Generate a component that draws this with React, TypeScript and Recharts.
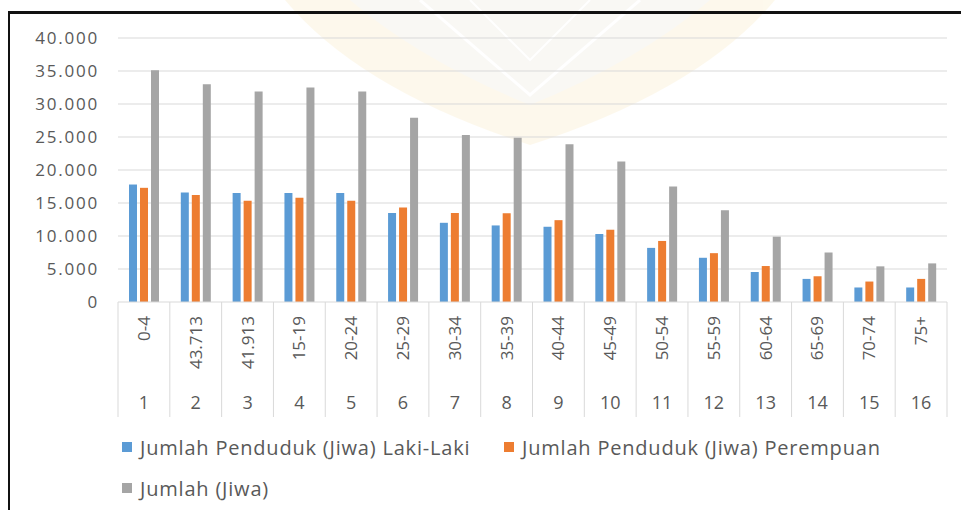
import { BarChart, Bar, XAxis, YAxis, CartesianGrid } from "recharts";

// kelompok umur (label sumbu seperti di gambar asli, termasuk yang salah ketik)
const kelompokUmur = [
  "0-4", "43.713", "41.913", "15-19", "20-24", "25-29", "30-34", "35-39",
  "40-44", "45-49", "50-54", "55-59", "60-64", "65-69", "70-74", "75+",
];
const nomor = ["1", "2", "3", "4", "5", "6", "7", "8", "9", "10", "11", "12", "13", "14", "15", "16"];

const lakiLaki = [17800, 16600, 16500, 16500, 16500, 13500, 12000, 11600, 11400, 10300, 8200, 6700, 4550, 3500, 2200, 2200];
const perempuan = [17300, 16200, 15350, 15800, 15350, 14300, 13500, 13450, 12400, 10950, 9250, 7400, 5450, 3900, 3100, 3500];
const jumlah = [35100, 33000, 31900, 32500, 31900, 27900, 25300, 24900, 23900, 21300, 17500, 13900, 9900, 7500, 5400, 5850];

const yTicks = [0, 5000, 10000, 15000, 20000, 25000, 30000, 35000, 40000];

const series = [
  { key: "laki", name: "Jumlah Penduduk (Jiwa) Laki-Laki", color: "#5B9BD5" },
  { key: "perempuan", name: "Jumlah Penduduk (Jiwa) Perempuan", color: "#ED7D31" },
  { key: "jumlah", name: "Jumlah (Jiwa)", color: "#A5A5A5" },
];

const data = kelompokUmur.map((umur, i) => ({
  umur,
  no: nomor[i],
  laki: lakiLaki[i],
  perempuan: perempuan[i],
  jumlah: jumlah[i],
}));

const FONT = "'Open Sans', sans-serif";
const TEXT = "#595959";

const fmt = (v: number) => v.toLocaleString("de-DE");

function DuaTingkatTick(props: any) {
  const { x, y, payload, index } = props;
  const half = payload?.offset || 25.85;
  const last = index === kelompokUmur.length - 1;
  return (
    <g>
      <line x1={x - half} y1={y} x2={x - half} y2={y + 115} stroke="#D9D9D9" />
      {last && <line x1={x + half} y1={y} x2={x + half} y2={y + 115} stroke="#D9D9D9" />}
      <text
        x={0}
        y={0}
        transform={`translate(${x + 6},${y + 14}) rotate(-90)`}
        textAnchor="end"
        fontFamily={FONT}
        fontSize={17}
        fill={TEXT}
      >
        {payload.value}
      </text>
      <text x={x} y={y + 107} textAnchor="middle" fontFamily={FONT} fontSize={18} fill={TEXT}>
        {nomor[index]}
      </text>
    </g>
  );
}

function Watermark() {
  return (
    <svg width={961} height={510} style={{ position: "absolute", left: 0, top: 0 }}>
      <g opacity={0.4}>
        <path d="M285 0 L775 0 Q700 90 530 145 Q360 90 285 0 Z" fill="#FBF0D2" />
        <path d="M350 0 L710 0 Q640 60 530 105 Q420 60 350 0 Z" fill="#F1EEE6" />
        <path d="M420 0 L530 95 L640 0" fill="none" stroke="#FFFFFF" strokeWidth={3} />
        <path d="M470 0 L530 60 L590 0" fill="none" stroke="#FFFFFF" strokeWidth={2} />
      </g>
    </svg>
  );
}

export default function App() {
  return (
    <div style={{ position: "absolute", left: 0, top: 0, width: 961, height: 510, background: "#fff", overflow: "hidden" }}>
      <Watermark />
      <div
        style={{
          position: "absolute",
          left: 8,
          top: 11,
          width: 960,
          height: 510,
          borderLeft: "2px solid #111",
          borderTop: "3px solid #111",
        }}
      />
      <div style={{ position: "absolute", left: 0, top: 0 }}>
        <BarChart
          width={961}
          height={510}
          data={data}
          margin={{ top: 38, right: 14, bottom: 88, left: 0 }}
          barSize={8}
          barGap={3}
        >
          <CartesianGrid vertical={false} stroke="#D9D9D9" horizontalValues={yTicks.slice(1)} />
          <YAxis
            width={118}
            domain={[0, 40000]}
            ticks={yTicks}
            tickFormatter={fmt}
            axisLine={false}
            tickLine={false}
            tickMargin={13}
            tick={{ fontFamily: FONT, fontSize: 17, fill: TEXT, letterSpacing: 1.8 }}
          />
          <XAxis
            dataKey="umur"
            height={120}
            interval={0}
            tickLine={false}
            tickSize={0}
            tickMargin={0}
            axisLine={{ stroke: "#D9D9D9" }}
            tick={<DuaTingkatTick />}
          />
          {series.map((s) => (
            <Bar key={s.key} dataKey={s.key} name={s.name} fill={s.color} isAnimationActive={false} />
          ))}
        </BarChart>
      </div>
      <div
        style={{
          position: "absolute",
          left: 122,
          top: 433,
          width: 830,
          fontFamily: FONT,
          fontSize: 20,
          letterSpacing: 0.8,
          color: TEXT,
          whiteSpace: "nowrap",
        }}
      >
        {[series.slice(0, 2), series.slice(2)].map((row, r) => (
          <div key={r} style={{ height: 28, marginBottom: 13, display: "flex" }}>
            {row.map((s, i) => (
              <div key={s.key} style={{ display: "flex", alignItems: "center", width: r === 0 && i === 0 ? 382 : undefined }}>
                <span style={{ width: 10, height: 10, background: s.color, marginRight: 8, display: "inline-block" }} />
                <span>{s.name}</span>
              </div>
            ))}
          </div>
        ))}
      </div>
    </div>
  );
}
